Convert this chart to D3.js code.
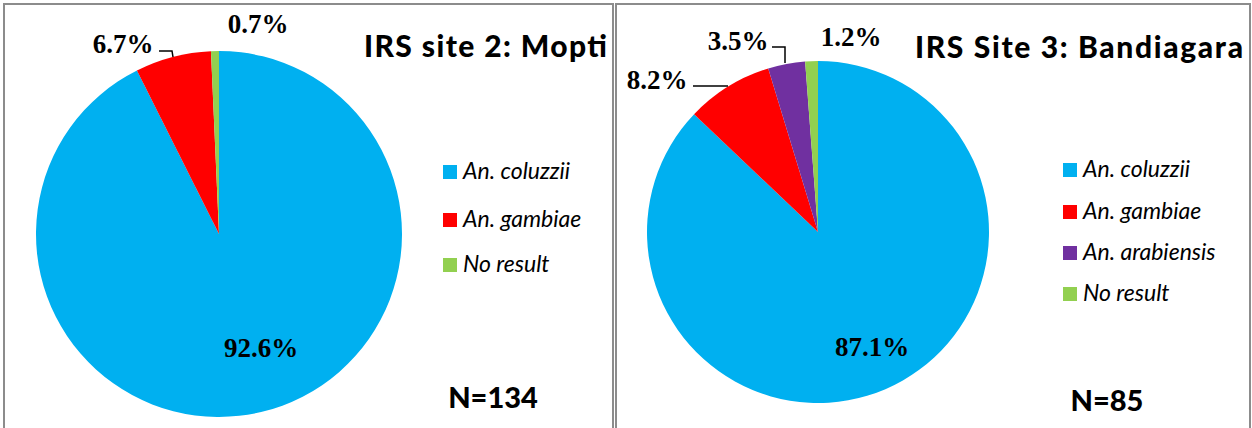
<!DOCTYPE html>
<html>
<head>
<meta charset="utf-8">
<script src="https://cdnjs.cloudflare.com/ajax/libs/d3/7.8.5/d3.min.js"></script>
<style>
  body { margin: 0; background: #fff; }
  svg { display: block; }
</style>
</head>
<body>
<div class="chart"></div>
<script>
// data
var moptiSpecies = ["An. coluzzii", "An. gambiae", "No result"];
var moptiValues = [92.6, 6.7, 0.7];
var bandSpecies = ["An. coluzzii", "An. gambiae", "An. arabiensis", "No result"];
var bandValues = [87.1, 8.2, 3.5, 1.2];

var colors = {
  "An. coluzzii": "#00B0F0",
  "An. gambiae": "#FF0000",
  "An. arabiensis": "#7030A0",
  "No result": "#92D050"
};

var W = 1252, H = 428;

var svg = d3.select(".chart")
    .append("svg")
    .attr("width", W)
    .attr("height", H);

// one entry per panel
var panels = [
  {x: 4, w: 609, title: "IRS site 2: Mopti", titleW: 243, n: "N=134", cx: 219, cy: 234, r: 183,
   species: moptiSpecies, values: moptiValues,
   titleX: 607, titleY: 57, legX: 443, legY: [172, 220, 265], nX: 493, nY: 408,
   labels: [
     {x: 261, y: 357},
     {x: 123, y: 53, leader: [[159, 51], [172, 51], [173, 57]]},
     {x: 258, y: 33}
   ]},
  {x: 616, w: 634, title: "IRS Site 3: Bandiagara", titleW: 328, n: "N=85", cx: 818, cy: 232, r: 171,
   species: bandSpecies, values: bandValues,
   titleX: 1243, titleY: 58, legX: 1063, legY: [170, 212, 253, 294], nX: 1107, nY: 411,
   labels: [
     {x: 872, y: 356},
     {x: 657, y: 89, leader: [[693, 86], [728, 86]]},
     {x: 738, y: 50, leader: [[772, 47], [785, 47], [785, 63]]},
     {x: 851, y: 46}
   ]}
];

var pie = d3.pie().sort(null).value(function(d) { return d; });

panels.forEach(function(p) {
  var g = svg.append("g");

  g.append("rect")
    .attr("x", p.x)
    .attr("y", 4)
    .attr("width", p.w)
    .attr("height", H + 10)
    .style("fill", "none")
    .style("stroke", "#8c8c8c")
    .style("stroke-width", 2);

  var arc = d3.arc().innerRadius(0).outerRadius(p.r);

  g.selectAll(".slice")
    .data(pie(p.values))
    .enter()
    .append("path")
    .attr("class", "slice")
    .attr("transform", "translate(" + p.cx + "," + p.cy + ")")
    .attr("d", arc)
    .style("fill", function(d, i) { return colors[p.species[i]]; });

  // leader lines
  p.labels.forEach(function(l) {
    if (!l.leader) return;
    g.append("path")
      .attr("d", d3.line()(l.leader))
      .style("fill", "none")
      .style("stroke", "#000")
      .style("stroke-width", 1.5);
  });

  // data labels
  g.selectAll(".dlabel")
    .data(p.values)
    .enter()
    .append("text")
    .attr("class", "dlabel")
    .attr("x", function(d, i) { return p.labels[i].x; })
    .attr("y", function(d, i) { return p.labels[i].y; })
    .attr("text-anchor", "middle")
    .style("font-family", "'Liberation Serif', 'Times New Roman', serif")
    .style("font-weight", "bold")
    .style("font-size", "27px")
    .text(function(d) { return d.toFixed(1) + "%"; });

  // title
  g.append("text")
    .attr("x", p.titleX)
    .attr("y", p.titleY)
    .attr("text-anchor", "end")
    .attr("textLength", p.titleW)
    .attr("lengthAdjust", "spacing")
    .style("font-family", "Lato, 'Open Sans', sans-serif")
    .style("font-weight", "900")
    .style("font-size", "30px")
    .text(p.title);

  // legend
  var leg = g.selectAll(".legend")
    .data(p.species)
    .enter()
    .append("g")
    .attr("class", "legend")
    .attr("transform", function(d, i) { return "translate(" + p.legX + "," + p.legY[i] + ")"; });

  leg.append("rect")
    .attr("x", 0)
    .attr("y", -7)
    .attr("width", 14)
    .attr("height", 14)
    .style("fill", function(d) { return colors[d]; });

  leg.append("text")
    .attr("x", 20)
    .attr("y", 7)
    .style("font-family", "Lato, 'Open Sans', sans-serif")
    .style("font-style", "italic")
    .style("font-size", "23px")
    .text(function(d) { return d; });

  // sample size
  g.append("text")
    .attr("x", p.nX)
    .attr("y", p.nY)
    .attr("text-anchor", "middle")
    .style("font-family", "Lato, 'Open Sans', sans-serif")
    .style("font-weight", "900")
    .style("font-size", "29px")
    .text(p.n);
});
</script>
</body>
</html>
